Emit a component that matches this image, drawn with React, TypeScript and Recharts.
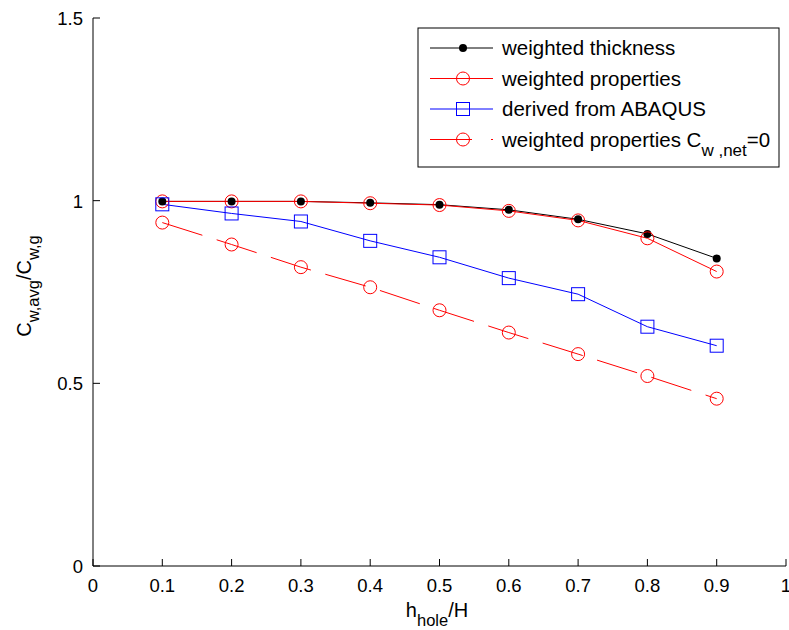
import { LineChart, Line, XAxis, YAxis } from 'recharts';

// h_hole / H
const holeRatio = [0.1, 0.2, 0.3, 0.4, 0.5, 0.6, 0.7, 0.8, 0.9];
const weightedThickness = [0.998, 0.998, 0.998, 0.994, 0.989, 0.975, 0.949, 0.909, 0.842];
const weightedProperties = [0.998, 0.998, 0.998, 0.993, 0.988, 0.972, 0.946, 0.897, 0.806];
const derivedAbaqus = [0.99, 0.965, 0.943, 0.89, 0.845, 0.788, 0.744, 0.655, 0.603];
const weightedPropsNet0 = [0.94, 0.88, 0.818, 0.763, 0.7, 0.639, 0.58, 0.52, 0.458];

const xTicks = [0, 0.1, 0.2, 0.3, 0.4, 0.5, 0.6, 0.7, 0.8, 0.9, 1];
const yTicks = [0, 0.5, 1, 1.5];

const data = holeRatio.map((x, i) => ({
  x,
  thick: weightedThickness[i],
  props: weightedProperties[i],
  abaqus: derivedAbaqus[i],
  net0: weightedPropsNet0[i],
}));

const FONT = '"Liberation Sans", Arial, sans-serif';

const XTick = (p: any) => {
  const { x, y, payload } = p;
  return (
    <g>
      <line x1={x} y1={y} x2={x} y2={y - 7} stroke="#000" strokeWidth={1} />
      <text x={x} y={y + 26} textAnchor="middle" fontSize={18.5} fontFamily={FONT} fill="#000">
        {String(payload.value)}
      </text>
    </g>
  );
};

const YTick = (p: any) => {
  const { x, y, payload } = p;
  return (
    <g>
      <line x1={x} y1={y} x2={x + 7} y2={y} stroke="#000" strokeWidth={1} />
      <text x={x - 10} y={y + 7} textAnchor="end" fontSize={18.5} fontFamily={FONT} fill="#000">
        {String(payload.value)}
      </text>
    </g>
  );
};

const Dot = (p: any) => (
  <circle key={p.index} cx={p.cx} cy={p.cy} r={4} fill="#000" stroke="none" />
);
const Ring = (p: any) => (
  <circle key={p.index} cx={p.cx} cy={p.cy} r={6.5} fill="none" stroke="#ff0000" strokeWidth={1} />
);
const Square = (p: any) => (
  <rect key={p.index} x={p.cx - 6.5} y={p.cy - 6.5} width={13} height={13} fill="none" stroke="#0000ff" strokeWidth={1} />
);

const legendRows = [
  { label: 'weighted thickness', color: '#000', marker: 'dot' },
  { label: 'weighted properties', color: '#ff0000', marker: 'ring' },
  { label: 'derived from ABAQUS', color: '#0000ff', marker: 'square' },
  { label: 'weighted properties C', color: '#ff0000', marker: 'ring', dashed: true },
];

function LegendBox() {
  return (
    <svg width={364} height={142} style={{ position: 'absolute', left: 417, top: 27 }}>
      <rect x={1} y={1} width={361} height={139} fill="#fff" stroke="#000" strokeWidth={1} />
      {legendRows.map((r, i) => {
        const cy = 21 + i * 30.5;
        return (
          <g key={r.label}>
            {r.dashed ? (
              <>
                <line x1={13} y1={cy} x2={55} y2={cy} stroke={r.color} strokeWidth={1} />
                <line x1={74} y1={cy} x2={76} y2={cy} stroke={r.color} strokeWidth={1} />
              </>
            ) : (
              <line x1={13} y1={cy} x2={76} y2={cy} stroke={r.color} strokeWidth={1} />
            )}
            {r.marker === 'dot' && <circle cx={46} cy={cy} r={4} fill="#000" />}
            {r.marker === 'ring' && <circle cx={46} cy={cy} r={6.5} fill="none" stroke={r.color} />}
            {r.marker === 'square' && (
              <rect x={39.5} y={cy - 6.5} width={13} height={13} fill="none" stroke={r.color} />
            )}
            <text x={85} y={cy + 7} fontSize={20.5} fontFamily={FONT} fill="#000">
              {r.label}
              {r.dashed && (
                <>
                  <tspan dy={9} fontSize={17}>w ,net</tspan>
                  <tspan dy={-9}>=0</tspan>
                </>
              )}
            </text>
          </g>
        );
      })}
    </svg>
  );
}

function AxisLabels() {
  return (
    <svg width={789} height={630} style={{ position: 'absolute', left: 0, top: 0, pointerEvents: 'none' }}>
      <text x={437} y={617} textAnchor="middle" fontSize={20} fontFamily={FONT} fill="#000">
        h<tspan dy={9} fontSize={16.5}>hole</tspan>
        <tspan dy={-9}>/H</tspan>
      </text>
      <text
        transform="translate(31,286) rotate(-90)"
        textAnchor="middle"
        fontSize={20}
        fontFamily={FONT}
        fill="#000"
      >
        C<tspan dy={8} fontSize={16.5}>w,avg</tspan>
        <tspan dy={-8}>/C</tspan>
        <tspan dy={8} fontSize={16.5}>w,g</tspan>
      </text>
    </svg>
  );
}

export default function App() {
  return (
    <div style={{ position: 'absolute', left: 0, top: 0, width: 789, height: 630, background: '#fff' }}>
      <LineChart width={789} height={630} data={data} margin={{ top: 18, right: 3, bottom: 34, left: 33 }}>
        <XAxis
          dataKey="x"
          type="number"
          domain={[0, 1]}
          ticks={xTicks}
          interval={0}
          height={30}
          tickSize={0}
          tickMargin={0}
          tickLine={false}
          axisLine={{ stroke: '#000', strokeWidth: 1 }}
          tick={<XTick />}
        />
        <YAxis
          type="number"
          domain={[0, 1.5]}
          ticks={yTicks}
          interval={0}
          width={60}
          tickSize={0}
          tickMargin={0}
          tickLine={false}
          axisLine={{ stroke: '#000', strokeWidth: 1 }}
          tick={<YTick />}
        />
        <Line dataKey="thick" stroke="#000" strokeWidth={1} dot={<Dot />} activeDot={false} isAnimationActive={false} />
        <Line dataKey="props" stroke="#ff0000" strokeWidth={1} dot={<Ring />} activeDot={false} isAnimationActive={false} />
        <Line dataKey="abaqus" stroke="#0000ff" strokeWidth={1} dot={<Square />} activeDot={false} isAnimationActive={false} />
        <Line
          dataKey="net0"
          stroke="#ff0000"
          strokeWidth={1}
          strokeDasharray="42 15"
          dot={<Ring />}
          activeDot={false}
          isAnimationActive={false}
        />
      </LineChart>
      <LegendBox />
      <AxisLabels />
    </div>
  );
}
